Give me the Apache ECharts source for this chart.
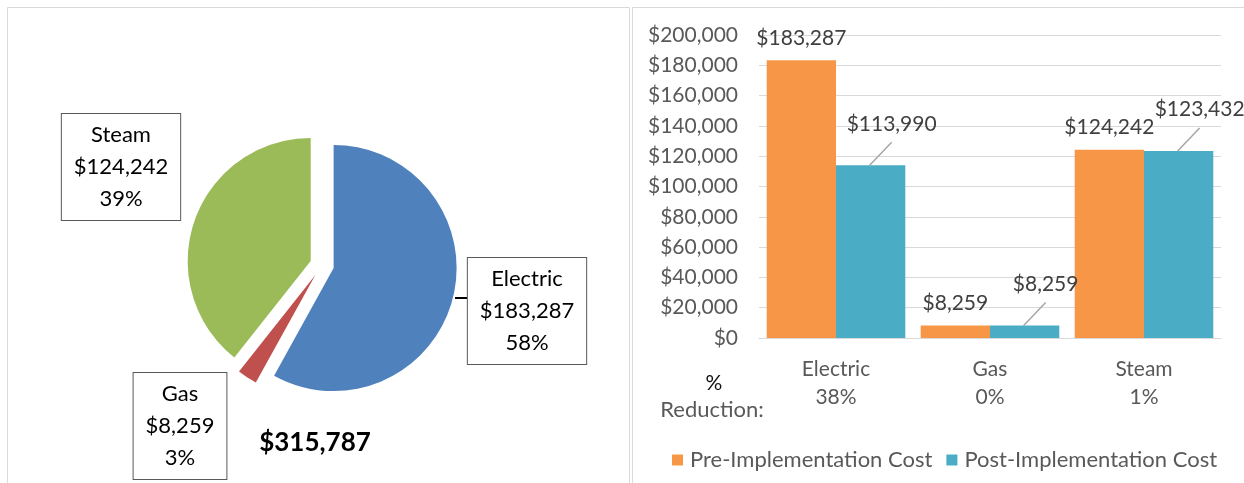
<!DOCTYPE html>
<html>
<head>
<meta charset="utf-8">
<script src="https://cdn.jsdelivr.net/npm/echarts@6/dist/echarts.min.js"></script>
<style>
html, body { margin: 0; padding: 0; background: #fff; }
#chart-panel { width: 1244px; height: 483px; }
</style>
</head>
<body>
<div id="chart-panel"></div>
<script>
// pie: share of annual utility cost
var sources = ['Electric', 'Gas', 'Steam'];
var annualCost = [183287, 8259, 124242];
var totalLabel = '$315,787';

// bars: cost before / after implementation
var categories = ['Electric', 'Gas', 'Steam'];
var reduction = ['38%', '0%', '1%'];
var preCost = [183287, 8259, 124242];
var postCost = [113990, 8259, 123432];

var pieColors = ['#4F81BD', '#C0504D', '#9BBB59'];
// centre of each boxed pie label
var pieLabelPos = [[527, 311], [180, 426], [121, 167]];

var font = 'Lato, "Open Sans", sans-serif';
var postLabelShift = [21, -26];

function money(v) {
    return '$' + v.toLocaleString('en-US');
}

var total = annualCost.reduce(function (a, b) { return a + b; }, 0);

var pieLabels = sources.map(function (name, i) {
    var pct = Math.round(annualCost[i] / total * 100) + '%';
    return {
        type: 'text',
        x: pieLabelPos[i][0],
        y: pieLabelPos[i][1],
        z: 10,
        style: {
            text: name + '\n' + money(annualCost[i]) + '\n' + pct,
            font: '22px ' + font,
            lineHeight: 32,
            fill: '#000',
            align: 'center',
            verticalAlign: 'middle',
            backgroundColor: '#fff',
            borderColor: '#595959',
            borderWidth: 1,
            padding: [5, 12, 5, 12]
        }
    };
});

var myChart = echarts.init(document.getElementById('chart-panel'));

var option = {
    backgroundColor: '#ffffff',
    animation: false,
    textStyle: { fontFamily: font },
    graphic: [
        { type: 'rect', shape: { x: 7.5, y: 7.5, width: 622, height: 490 },
          style: { fill: null, stroke: '#d9d9d9', lineWidth: 1 }, silent: true },
        { type: 'rect', shape: { x: 632.5, y: 7.5, width: 630, height: 490 },
          style: { fill: null, stroke: '#d9d9d9', lineWidth: 1 }, silent: true },
        // leader from the Electric slice to its box
        { type: 'line', shape: { x1: 455, y1: 298, x2: 469, y2: 298 },
          style: { stroke: '#000', lineWidth: 2 }, z: 5 },
        { type: 'text', x: 315, y: 443, z: 10,
          style: { text: totalLabel, font: 'bold 26px ' + font, fill: '#000', align: 'center', verticalAlign: 'middle' } },
        { type: 'text', x: 714, y: 383,
          style: { text: '%', font: '21px ' + font, fill: '#111', align: 'center', verticalAlign: 'middle' } },
        { type: 'text', x: 712, y: 410,
          style: { text: 'Reduction:', font: '22px ' + font, fill: '#595959', align: 'center', verticalAlign: 'middle' } }
    ].concat(pieLabels),
    legend: {
        data: ['Pre-Implementation Cost', 'Post-Implementation Cost'],
        left: 667,
        top: 444,
        itemWidth: 11,
        itemHeight: 11,
        itemGap: 14,
        icon: 'rect',
        textStyle: { fontSize: 22, color: '#595959', fontFamily: font, padding: [0, 0, 0, 2] }
    },
    grid: { left: 759, right: 23, top: 35, bottom: 145 },
    xAxis: {
        type: 'category',
        data: categories,
        axisLine: { lineStyle: { color: '#d9d9d9' } },
        axisTick: { show: false },
        axisLabel: {
            color: '#595959',
            fontSize: 21,
            lineHeight: 28,
            margin: 17,
            formatter: function (val, idx) {
                return val + '\n' + reduction[idx];
            }
        }
    },
    yAxis: {
        type: 'value',
        min: 0,
        max: 200000,
        interval: 20000,
        axisLine: { show: false },
        axisTick: { show: false },
        splitLine: { lineStyle: { color: '#d9d9d9' } },
        axisLabel: {
            color: '#595959',
            fontSize: 21,
            margin: 21,
            formatter: function (v) { return money(v); }
        }
    },
    series: [
        {
            name: 'Sources',
            type: 'pie',
            center: [322, 265],
            radius: 123,
            startAngle: 90,
            clockwise: true,
            selectedMode: 'multiple',
            selectedOffset: 12,
            emphasis: { disabled: true },
            label: { show: false },
            labelLine: { show: false },
            data: sources.map(function (name, i) {
                return {
                    name: name,
                    value: annualCost[i],
                    selected: true,
                    itemStyle: { color: pieColors[i] }
                };
            })
        },
        {
            name: 'Pre-Implementation Cost',
            type: 'bar',
            barGap: '0%',
            barCategoryGap: '10%',
            itemStyle: { color: '#F79646' },
            label: {
                show: true,
                position: 'top',
                distance: 12,
                color: '#404040',
                fontSize: 21,
                formatter: function (p) { return money(p.value); }
            },
            data: preCost
        },
        {
            name: 'Post-Implementation Cost',
            type: 'bar',
            itemStyle: { color: '#4BACC6' },
            label: {
                show: true,
                position: 'top',
                distance: 5,
                offset: postLabelShift,
                color: '#404040',
                fontSize: 21,
                formatter: function (p) { return money(p.value); }
            },
            data: postCost
        },
        {
            // diagonal leader lines from post bars to their shifted labels
            name: 'leaders',
            type: 'custom',
            silent: true,
            z: 5,
            data: postCost.map(function (v, i) { return [i, v]; }),
            renderItem: function (params, api) {
                var top = api.coord([api.value(0), api.value(1)]);
                var band = api.size([1, 0])[0];
                var bx = top[0] + band * 0.225;
                return {
                    type: 'line',
                    shape: {
                        x1: bx - 1, y1: top[1],
                        x2: bx + postLabelShift[0], y2: top[1] + postLabelShift[1] + 3
                    },
                    style: { stroke: '#a6a6a6', lineWidth: 1.5 }
                };
            }
        }
    ]
};

myChart.setOption(option);
</script>
</body>
</html>
